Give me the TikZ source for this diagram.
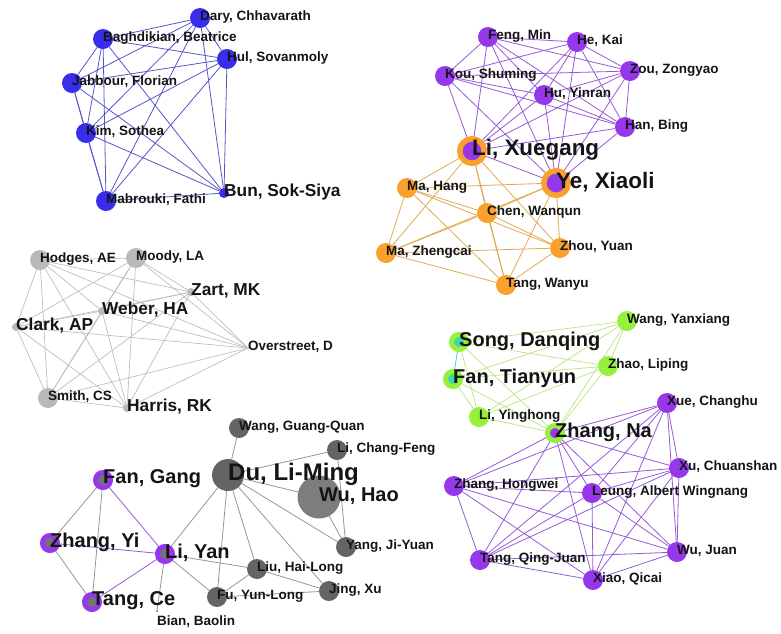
\documentclass[tikz,border=0pt]{standalone}
\usepackage{fontspec}
\setmainfont{Liberation Sans}
\usepackage{xcolor}
\usetikzlibrary{backgrounds}

\definecolor{bluefill}{RGB}{55,45,235}
\definecolor{blueline}{RGB}{85,85,200}
\definecolor{purpfill}{RGB}{150,55,235}
\definecolor{purpline}{RGB}{150,90,215}
\definecolor{orfill}{RGB}{250,160,45}
\definecolor{orline}{RGB}{225,170,80}
\definecolor{grayfill}{RGB}{185,185,185}
\definecolor{grayline}{RGB}{190,190,190}
\definecolor{dgrayfill}{RGB}{100,100,100}
\definecolor{wufill}{RGB}{125,125,125}
\definecolor{dgrayline}{RGB}{150,150,150}
\definecolor{grnfill}{RGB}{150,240,60}
\definecolor{grnline}{RGB}{185,230,125}
\definecolor{cyfill}{RGB}{60,215,170}
\definecolor{txt}{RGB}{20,20,20}

\tikzset{
  dot/.style={circle, inner sep=0pt, outer sep=0pt, minimum size=20},
  bluedot/.style={dot, fill=bluefill},
  purpdot/.style={dot, fill=purpfill},
  ordot/.style={dot, fill=orfill},
  graydot/.style={dot, fill=grayfill},
  dgraydot/.style={dot, fill=dgrayfill},
  grndot/.style={dot, fill=grnfill},
  orring/.style={dot, fill=purpfill, draw=orfill, line width=5.5, minimum size=24.5},
  pring/.style={dot, fill=dgrayfill!90, draw=purpfill, line width=5, minimum size=15},
  gring/.style={dot, fill=purpfill, draw=grnfill, line width=5, minimum size=15},
  cring/.style={dot, fill=cyfill, draw=grnfill, line width=5, minimum size=15},
  lbl/.style={anchor=west, inner sep=0pt, text=txt, yshift=1,
    font=\bfseries\fontsize{13.5}{14}\selectfont},
  lblm/.style={lbl, font=\bfseries\fontsize{17.3}{18}\selectfont},
  lblb/.style={lbl, font=\bfseries\fontsize{20}{21}\selectfont},
  lblx/.style={lbl, font=\bfseries\fontsize{22.4}{23}\selectfont},
  bl/.style={draw=blueline, line width=0.8},
  pl/.style={draw=purpline, line width=0.8},
  ol/.style={draw=orline, line width=0.8},
  gl/.style={draw=grayline, line width=0.7},
  dl/.style={draw=dgrayline, line width=0.8},
  nl/.style={draw=grnline, line width=0.7}
}

\begin{document}
\begin{tikzpicture}[x=1pt, y=-1pt]
\useasboundingbox (0,0) rectangle (781,633);

% blue group
\node[bluedot] (dary) at (200,18) {};
\node[bluedot] (bagh) at (103,39) {};
\node[bluedot] (hul) at (227,59) {};
\node[bluedot] (jab) at (72,83) {};
\node[bluedot] (kim) at (86,133) {};
\node[bluedot] (mab) at (106,201) {};
\node[bluedot, minimum size=10] (bun) at (224,193) {};
\node[lbl] (dary-l) at (dary) {Dary, Chhavarath};
\node[lbl] (bagh-l) at (bagh) {Baghdikian, Beatrice};
\node[lbl] (hul-l) at (hul) {Hul, Sovanmoly};
\node[lbl] (jab-l) at (jab) {Jabbour, Florian};
\node[lbl] (kim-l) at (kim) {Kim, Sothea};
\node[lbl] (mab-l) at (mab) {Mabrouki, Fathi};
\node[lblm] (bun-l) at (bun) {Bun, Sok-Siya};

% purple and orange group, top right
\node[purpdot] (feng) at (488,37) {};
\node[purpdot] (hekai) at (577,42) {};
\node[purpdot] (kou) at (445,76) {};
\node[purpdot] (zou) at (630,71) {};
\node[purpdot] (hu) at (544,95) {};
\node[purpdot] (han) at (625,127) {};
\node[orring] (lix) at (472,151) {};
\node[orring] (ye) at (556,183) {};
\node[ordot] (mahang) at (407,188) {};
\node[ordot] (chen) at (487,213) {};
\node[ordot] (maz) at (386,253) {};
\node[ordot] (zhou) at (560,248) {};
\node[ordot] (tangw) at (506,285) {};
\node[lbl] (feng-l) at (feng) {Feng, Min};
\node[lbl] (hekai-l) at (hekai) {He, Kai};
\node[lbl] (kou-l) at (kou) {Kou, Shuming};
\node[lbl] (zou-l) at (zou) {Zou, Zongyao};
\node[lbl] (hu-l) at (hu) {Hu, Yinran};
\node[lbl] (han-l) at (han) {Han, Bing};
\node[lblx] (lix-l) at (lix) {Li, Xuegang};
\node[lblx] (ye-l) at (ye) {Ye, Xiaoli};
\node[lbl] (mahang-l) at (mahang) {Ma, Hang};
\node[lbl] (chen-l) at (chen) {Chen, Wanqun};
\node[lbl] (maz-l) at (maz) {Ma, Zhengcai};
\node[lbl] (zhou-l) at (zhou) {Zhou, Yuan};
\node[lbl] (tangw-l) at (tangw) {Tang, Wanyu};

% gray group
\node[graydot] (hodges) at (40,260) {};
\node[graydot] (moody) at (136,258) {};
\node[graydot, minimum size=8] (zart) at (191,292) {};
\node[graydot, minimum size=8] (weber) at (102,311) {};
\node[graydot, minimum size=8] (clark) at (16,327) {};
\node[graydot, minimum size=3] (over) at (248,348) {};
\node[graydot] (smith) at (48,398) {};
\node[graydot, minimum size=8] (harris) at (127,408) {};
\node[lbl] (hodges-l) at (hodges) {Hodges, AE};
\node[lbl] (moody-l) at (moody) {Moody, LA};
\node[lblm] (zart-l) at (zart) {Zart, MK};
\node[lblm] (weber-l) at (weber) {Weber, HA};
\node[lblm] (clark-l) at (clark) {Clark, AP};
\node[lbl] (over-l) at (over) {Overstreet, D};
\node[lbl] (smith-l) at (smith) {Smith, CS};
\node[lblm] (harris-l) at (harris) {Harris, RK};

% green and purple group, bottom right
\node[grndot] (wang) at (627,321) {};
\node[cring] (song) at (459,342) {};
\node[grndot] (zhao) at (608,366) {};
\node[cring] (fan) at (453,379) {};
\node[grndot] (liy) at (479,417) {};
\node[gring] (zhangna) at (555,433) {};
\node[purpdot] (xue) at (667,403) {};
\node[purpdot] (xu) at (679,468) {};
\node[purpdot] (zhangh) at (454,486) {};
\node[purpdot] (leung) at (592,493) {};
\node[purpdot] (wu) at (677,552) {};
\node[purpdot] (tangq) at (480,560) {};
\node[purpdot] (xiao) at (593,580) {};
\node[lbl] (wang-l) at (wang) {Wang, Yanxiang};
\node[lblb] (song-l) at (song) {Song, Danqing};
\node[lbl] (zhao-l) at (zhao) {Zhao, Liping};
\node[lblb] (fan-l) at (fan) {Fan, Tianyun};
\node[lbl] (liy-l) at (liy) {Li, Yinghong};
\node[lblb] (zhangna-l) at (zhangna) {Zhang, Na};
\node[lbl] (xue-l) at (xue) {Xue, Changhu};
\node[lbl] (xu-l) at (xu) {Xu, Chuanshan};
\node[lbl] (zhangh-l) at (zhangh) {Zhang, Hongwei};
\node[lbl] (leung-l) at (leung) {Leung, Albert Wingnang};
\node[lbl] (wu-l) at (wu) {Wu, Juan};
\node[lbl] (tangq-l) at (tangq) {Tang, Qing-Juan};
\node[lbl] (xiao-l) at (xiao) {Xiao, Qicai};

% dark gray group, bottom left
\node[dgraydot] (wangg) at (239,428) {};
\node[dgraydot] (lic) at (337,450) {};
\node[dgraydot, minimum size=32] (du) at (228,475) {};
\node[dot, fill=wufill, minimum size=43] (wuhao) at (319,497) {};
\node[pring] (fangang) at (103,480) {};
\node[pring] (zhangyi) at (50,543) {};
\node[pring] (liyan) at (165,554) {};
\node[dgraydot] (yang) at (346,547) {};
\node[dgraydot] (liu) at (257,569) {};
\node[dgraydot] (jing) at (329,591) {};
\node[dgraydot] (fu) at (217,597) {};
\node[pring] (tangce) at (92,602) {};
\node[dgraydot, minimum size=2] (bian) at (157,611) {};
\node[lbl] (wangg-l) at (wangg) {Wang, Guang-Quan};
\node[lbl] (lic-l) at (lic) {Li, Chang-Feng};
\node[lbl, font=\bfseries\fontsize{24}{25}\selectfont] (du-l) at (du) {Du, Li-Ming};
\node[lblb] (wuhao-l) at (wuhao) {Wu, Hao};
\node[lblb] (fangang-l) at (fangang) {Fan, Gang};
\node[lblb] (zhangyi-l) at (zhangyi) {Zhang, Yi};
\node[lblb] (liyan-l) at (liyan) {Li, Yan};
\node[lbl] (yang-l) at (yang) {Yang, Ji-Yuan};
\node[lbl] (liu-l) at (liu) {Liu, Hai-Long};
\node[lbl] (jing-l) at (jing) {Jing, Xu};
\node[lbl] (fu-l) at (fu) {Fu, Yun-Long};
\node[lblb] (tangce-l) at (tangce) {Tang, Ce};
\node[lbl, yshift=-12] (bian-l) at (bian) {Bian, Baolin};

\begin{scope}[on background layer]
% blue links
\draw[bl] (dary) edge (bagh) edge (hul) edge (jab) edge (kim) edge (mab) edge (bun);
\draw[bl] (bagh) edge (hul) edge (jab) edge (kim) edge (mab) edge (bun);
\draw[bl] (hul) edge (jab) edge (kim) edge (mab) edge (bun);
\draw[bl] (jab) edge (kim) edge (mab) edge (bun);
\draw[bl] (kim) edge (mab) edge (bun);
\draw[bl] (mab) -- (bun);
% purple links, top
\draw[pl] (feng) edge (hekai) edge (kou) edge (zou) edge (hu) edge (han) edge (lix) edge (ye);
\draw[pl] (hekai) edge (kou) edge (zou) edge (hu) edge (han) edge (lix) edge (ye);
\draw[pl] (kou) edge (zou) edge (hu) edge (han) edge (lix) edge (ye);
\draw[pl] (zou) edge (hu) edge (han) edge (lix) edge (ye);
\draw[pl] (hu) edge (han) edge (lix) edge (ye);
\draw[pl] (han) edge (lix) edge (ye);
\draw[pl] (lix) -- (ye);
% orange links
\draw[ol] (lix) edge (mahang) edge (chen) edge (maz) edge (zhou) edge (tangw);
\draw[ol] (ye) edge (mahang) edge (chen) edge (maz) edge (zhou) edge (tangw);
\draw[ol] (mahang) edge (chen) edge (maz) edge (zhou) edge (tangw);
\draw[ol] (chen) edge (maz) edge (zhou) edge (tangw);
\draw[ol] (maz) edge (zhou) edge (tangw);
\draw[ol] (zhou) -- (tangw);
% gray links
\draw[gl] (hodges) edge (moody) edge (zart) edge (weber) edge (clark) edge (over) edge (smith) edge (harris);
\draw[gl] (moody) edge (zart) edge (weber) edge (clark) edge (over) edge (smith) edge (harris);
\draw[gl] (zart) edge (weber) edge (clark) edge (over) edge (smith) edge (harris);
\draw[gl] (weber) edge (clark) edge (over) edge (smith) edge (harris);
\draw[gl] (clark) edge (over) edge (smith) edge (harris);
\draw[gl] (over) edge (smith) edge (harris);
\draw[gl] (smith) -- (harris);
% green links
\draw[nl] (wang) edge (song) edge (zhao) edge (fan) edge (liy) edge (zhangna);
\draw[nl] (song) edge (zhao) edge (liy) edge (zhangna);
\draw[nl] (zhao) edge (fan) edge (liy) edge (zhangna);
\draw[nl] (fan) edge (liy) edge (zhangna);
\draw[nl] (liy) -- (zhangna);
\draw[draw=cyfill, line width=0.8] (song) -- (fan);
% purple links, bottom
\draw[pl] (zhangna) edge (xue) edge (xu) edge (zhangh) edge (leung) edge (wu) edge (tangq) edge (xiao);
\draw[pl] (xue) edge (xu) edge (zhangh) edge (leung) edge (wu) edge (tangq) edge (xiao);
\draw[pl] (xu) edge (zhangh) edge (leung) edge (wu) edge (tangq) edge (xiao);
\draw[pl] (zhangh) edge (leung) edge (wu) edge (tangq) edge (xiao);
\draw[pl] (leung) edge (wu) edge (tangq) edge (xiao);
\draw[pl] (wu) edge (tangq) edge (xiao);
\draw[pl] (tangq) -- (xiao);
% dark gray links
\draw[dl] (zhangyi) edge (fangang) edge (tangce);
\draw[dl] (fangang) -- (tangce);
\draw[pl] (liyan) edge (fangang) edge (zhangyi) edge (tangce);
\draw[dl] (liyan) edge (du) edge (liu) edge (fu) edge (bian);
\draw[dl] (du) edge (wangg) edge (lic) edge (wuhao) edge (yang) edge (liu) edge (fu) edge (jing);
\draw[dl] (yang) edge (lic) edge (wuhao);
\draw[dl] (fu) edge (liu) edge (jing);
\draw[dl] (liu) -- (jing);
\end{scope}
\end{tikzpicture}
\end{document}
